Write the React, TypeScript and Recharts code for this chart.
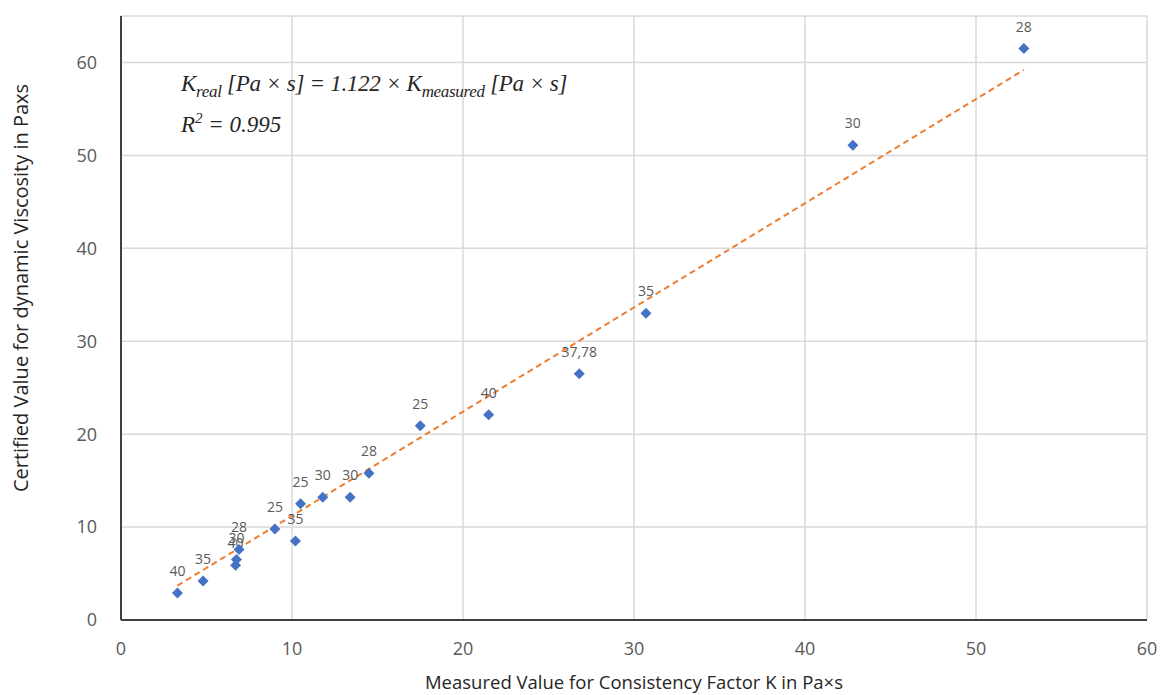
import React from "react";
import {
  CartesianGrid,
  Scatter,
  ScatterChart,
  XAxis,
  YAxis,
} from "recharts";

// measured K (Pa×s) vs certified viscosity (Pa×s), label = temperature
const measured = [3.3, 4.8, 6.7, 6.75, 6.9, 9.0, 10.2, 10.5, 11.8, 13.4, 14.5, 17.5, 21.5, 26.8, 30.7, 42.8, 52.8];
const certified = [2.9, 4.2, 5.9, 6.5, 7.6, 9.8, 8.5, 12.5, 13.2, 13.2, 15.8, 20.9, 22.1, 26.5, 33.0, 51.1, 61.5];
const temps = ["40", "35", "40", "30", "28", "25", "35", "25", "30", "30", "28", "25", "40", "37,78", "35", "30", "28"];

// trend line end points
const trendX = [3.3, 52.8];
const trendY = [3.7, 59.2];

const xTicks = [0, 10, 20, 30, 40, 50, 60];
const yTicks = [0, 10, 20, 30, 40, 50, 60];

const points = measured.map((x, i) => ({ x, y: certified[i], label: temps[i] }));
const trend = trendX.map((x, i) => ({ x, y: trendY[i] }));

const tickStyle = { fill: "#595959", fontSize: 18, fontFamily: "Open Sans" };

function Diamond(props: any) {
  const { cx, cy, payload } = props;
  const r = 5.5;
  return (
    <g>
      <polygon
        points={`${cx},${cy - r} ${cx + r},${cy} ${cx},${cy + r} ${cx - r},${cy}`}
        fill="#4472c4"
      />
      <text
        x={cx}
        y={cy - 17}
        textAnchor="middle"
        fill="#595959"
        fontSize={14}
        fontFamily="Open Sans"
      >
        {payload.label}
      </text>
    </g>
  );
}

function YTitle(props: any) {
  const { viewBox } = props;
  const x = viewBox.x + 28;
  const y = viewBox.y + viewBox.height / 2 - 30;
  return (
    <text
      x={x}
      y={y}
      transform={`rotate(-90, ${x}, ${y})`}
      textAnchor="middle"
      fill="#262626"
      fontSize={20}
      fontFamily="Open Sans"
    >
      Certified Value for dynamic Viscosity in Paxs
    </text>
  );
}

export default function App() {
  return (
    <div style={{ position: "absolute", left: 0, top: 0, width: 1161, height: 695, background: "#fff" }}>
      <ScatterChart width={1161} height={695} margin={{ top: 16, right: 14, left: 0, bottom: 0 }}>
        <CartesianGrid stroke="#d9d9d9" strokeWidth={1.5} />
        <XAxis
          type="number"
          dataKey="x"
          domain={[0, 60]}
          ticks={xTicks}
          height={75}
          tickLine={false}
          tickSize={0}
          tickMargin={22}
          tick={tickStyle}
          axisLine={{ stroke: "#404040", strokeWidth: 2 }}
          label={{
            value: "Measured Value for Consistency Factor K in Pa×s",
            position: "insideBottom",
            offset: 6,
            fill: "#262626",
            fontSize: 18.5,
            fontFamily: "Open Sans",
          }}
        />
        <YAxis
          type="number"
          dataKey="y"
          domain={[0, 65]}
          ticks={yTicks}
          width={121}
          tickLine={false}
          tickSize={0}
          tickMargin={24}
          tick={tickStyle}
          axisLine={{ stroke: "#404040", strokeWidth: 2 }}
          label={<YTitle />}
        />
        <Scatter
          data={trend}
          line={{ stroke: "#ed7d31", strokeWidth: 2, strokeDasharray: "6 4" }}
          shape={() => null}
          isAnimationActive={false}
        />
        <Scatter data={points} shape={<Diamond />} isAnimationActive={false} />
      </ScatterChart>
      <div
        style={{
          position: "absolute",
          left: 181,
          top: 72,
          fontFamily: "Liberation Serif",
          fontStyle: "italic",
          fontSize: 23,
          lineHeight: "24px",
          color: "#262626",
          whiteSpace: "nowrap",
          letterSpacing: -0.3,
        }}
      >
        K<sub style={{ fontSize: 17, lineHeight: 0 }}>real</sub> [Pa × s] = 1.122 × K
        <sub style={{ fontSize: 17, lineHeight: 0 }}>measured</sub> [Pa × s]
      </div>
      <div
        style={{
          position: "absolute",
          left: 181,
          top: 113,
          fontFamily: "Liberation Serif",
          fontStyle: "italic",
          fontSize: 23,
          lineHeight: "24px",
          color: "#262626",
          whiteSpace: "nowrap",
        }}
      >
        R<sup style={{ fontSize: 15, lineHeight: 0 }}>2</sup> = 0.995
      </div>
    </div>
  );
}
